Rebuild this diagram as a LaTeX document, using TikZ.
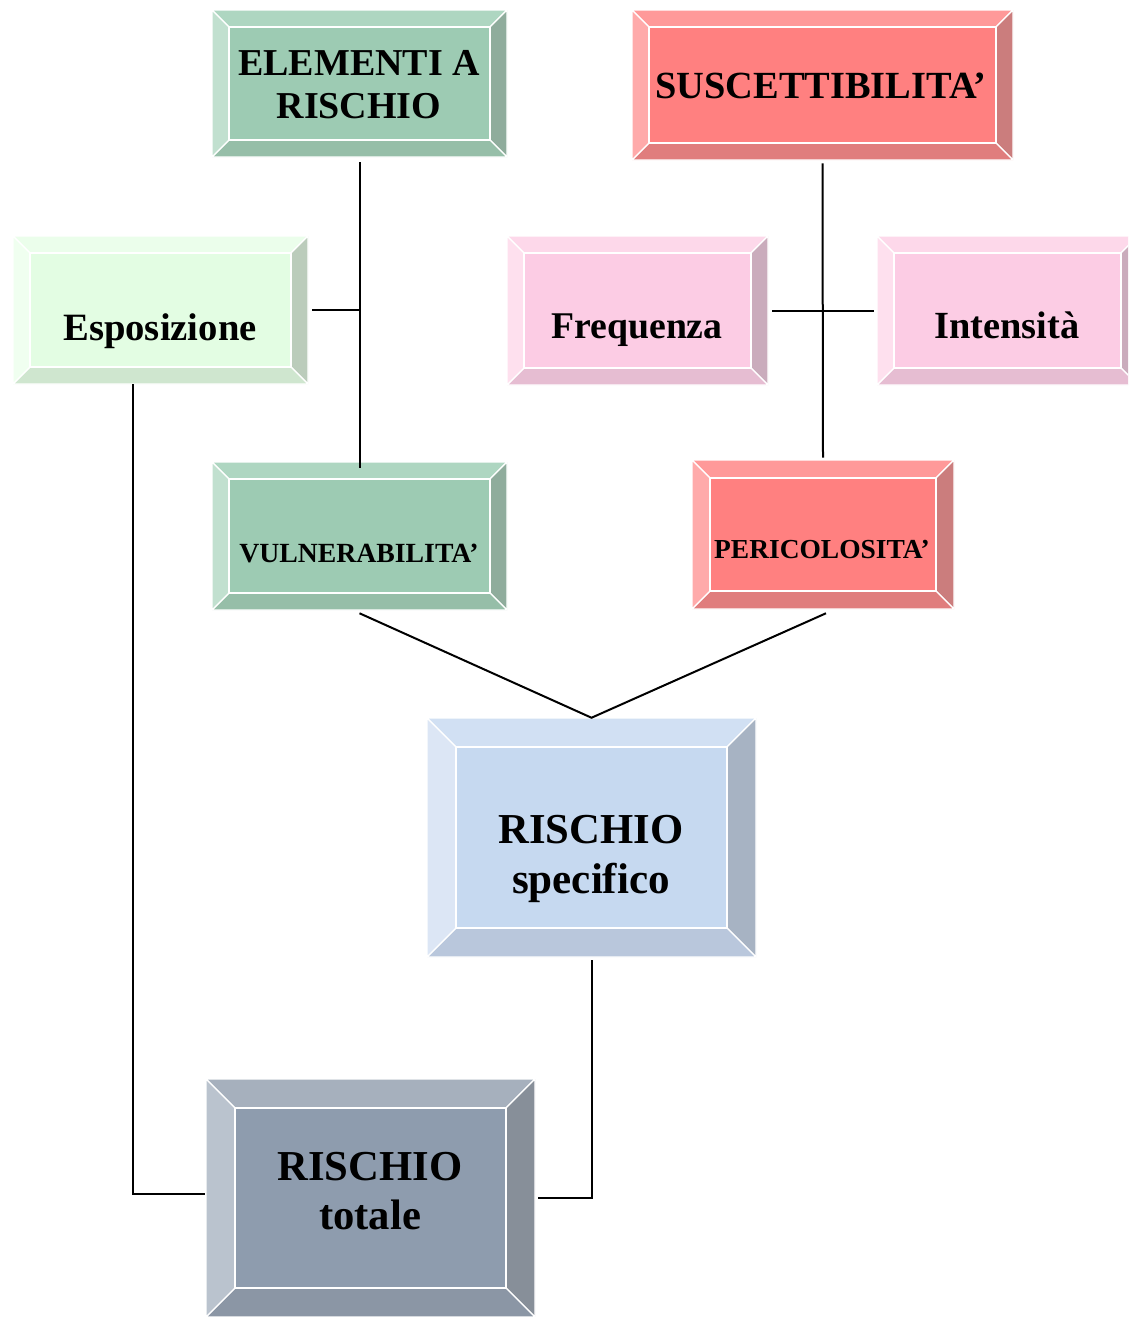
\documentclass[tikz,border=0pt]{standalone}
\usepackage{fontspec}
\setmainfont{Liberation Serif}
\usetikzlibrary{calc,fit}
% green
\definecolor{gF}{HTML}{9DCBB3}\definecolor{gT}{HTML}{AED6C1}\definecolor{gL}{HTML}{C1E0CF}\definecolor{gR}{HTML}{8FAC9C}\definecolor{gB}{HTML}{96BEA8}
% red
\definecolor{rF}{HTML}{FF8080}\definecolor{rT}{HTML}{FF9999}\definecolor{rL}{HTML}{FFAAAA}\definecolor{rR}{HTML}{CB7D7D}\definecolor{rB}{HTML}{E07D7D}
% light green
\definecolor{eF}{HTML}{E3FDE3}\definecolor{eT}{HTML}{EBFEEB}\definecolor{eL}{HTML}{F0FFF0}\definecolor{eR}{HTML}{BBCCBB}\definecolor{eB}{HTML}{CFE6CF}
% pink
\definecolor{pF}{HTML}{FCCCE4}\definecolor{pT}{HTML}{FDD8EA}\definecolor{pL}{HTML}{FEE0EE}\definecolor{pR}{HTML}{CAACBC}\definecolor{pB}{HTML}{E6BDD2}
% blue
\definecolor{bF}{HTML}{C6D9F0}\definecolor{bT}{HTML}{D1E0F3}\definecolor{bL}{HTML}{DCE6F5}\definecolor{bR}{HTML}{A7B3C3}\definecolor{bB}{HTML}{B9C7DC}
% gray
\definecolor{kF}{HTML}{8E9CAE}\definecolor{kT}{HTML}{A6B0BD}\definecolor{kL}{HTML}{BAC3CE}\definecolor{kR}{HTML}{878F99}\definecolor{kB}{HTML}{8B96A5}
\tikzset{
  facet/.style={draw=white,line width=0.9pt,line join=miter},
  conn/.style={draw=black,line width=1.5pt},
  txt/.style={inner sep=0pt,anchor=base,font=\bfseries},
}
% #1 name, #2 x1, #3 y1, #4 x2, #5 y2, #6 bevel, #7 colour prefix
\newcommand\bevbox[7]{%
  \path[facet,fill=#7T] (#2,#3) -- (#4,#3) -- (#4-#6,#3+#6) -- (#2+#6,#3+#6) -- cycle;
  \path[facet,fill=#7R] (#4,#3) -- (#4,#5) -- (#4-#6,#5-#6) -- (#4-#6,#3+#6) -- cycle;
  \path[facet,fill=#7B] (#4,#5) -- (#2,#5) -- (#2+#6,#5-#6) -- (#4-#6,#5-#6) -- cycle;
  \path[facet,fill=#7L] (#2,#5) -- (#2,#3) -- (#2+#6,#3+#6) -- (#2+#6,#5-#6) -- cycle;
  \path[facet,fill=#7F] (#2+#6,#3+#6) rectangle (#4-#6,#5-#6);
  \node[fit={(#2,#3)(#4,#5)},inner sep=0pt,draw=none] (#1) {};
}
\begin{document}
\begin{tikzpicture}[x=0.75pt,y=-0.75pt]
\useasboundingbox (0,0) rectangle (1128,1317);
\clip (0,0) rectangle (1128,1317);
\fill[white] (0,0) rectangle (1128,1317);

\bevbox{elem}{212}{10}{507}{157}{17}{g}
\bevbox{susc}{632}{10}{1013}{160}{17}{r}
\bevbox{espo}{13}{236}{308}{384}{17}{e}
\bevbox{freq}{507}{236}{768}{385}{17}{p}
\bevbox{inte}{877}{236}{1138}{385}{17}{p}
\bevbox{vuln}{212}{462}{507}{610}{17}{g}
\bevbox{peri}{692}{460}{954}{609}{18}{r}
\bevbox{spec}{427}{718}{756}{957}{29}{b}
\bevbox{tot}{206}{1079}{535}{1317}{29}{k}

\node[txt,font=\bfseries\fontsize{28.5}{33}\selectfont] (elemA) at (359,75) {ELEMENTI A};
\node[txt,font=\bfseries\fontsize{28.5}{33}\selectfont] (elemB) at (359,118) {RISCHIO};
\node[txt,font=\bfseries\fontsize{28.8}{32}\selectfont] (suscT) at (821,98) {SUSCETTIBILITA’};
\node[txt,font=\bfseries\fontsize{29}{32}\selectfont] (espoT) at (160,340) {Esposizione};
\node[txt,font=\bfseries\fontsize{28.3}{32}\selectfont] (freqT) at (637,338) {Frequenza};
\node[txt,font=\bfseries\fontsize{28.8}{32}\selectfont] (inteT) at (1007,338) {Intensità};
\node[txt,font=\bfseries\fontsize{20.8}{24}\selectfont] (vulnT) at (359,562) {VULNERABILITA’};
\node[txt,font=\bfseries\fontsize{20.6}{24}\selectfont] (periT) at (822,558) {PERICOLOSITA’};
\node[txt,font=\bfseries\fontsize{32}{35}\selectfont] (specA) at (591,843) {RISCHIO};
\node[txt,font=\bfseries\fontsize{32.3}{35}\selectfont] (specB) at (591,893) {specifico};
\node[txt,font=\bfseries\fontsize{32}{35}\selectfont] (totA) at (370,1180) {RISCHIO};
\node[txt,font=\bfseries\fontsize{32}{35}\selectfont] (totB) at (370,1229) {totale};

% connectors
\draw[conn] ($(elem.south)+(0,5)$) -- ($(vuln.north)+(0,6)$);
\draw[conn] ($(espo.east)+(4,0)$) -- (espo.east -| elem.south);
\draw[conn] ($(susc.south)+(0,3)$) -- ($(peri.north)+(0,-2)$);
\draw[conn] ($(freq.east)+(4,0)$) -- ($(inte.west)+(-3,0)$);
\draw[conn] ($(vuln.south)+(0,3)$) -- (spec.north) -- ($(peri.south)+(3,4)$);
\draw[conn] ($(espo.south)+(-28,0)$) |- ($(tot.west)+(-1,-4)$);
\draw[conn] ($(spec.south)+(0,3)$) |- ($(tot.east)+(3,0)$);
\end{tikzpicture}
\end{document}
